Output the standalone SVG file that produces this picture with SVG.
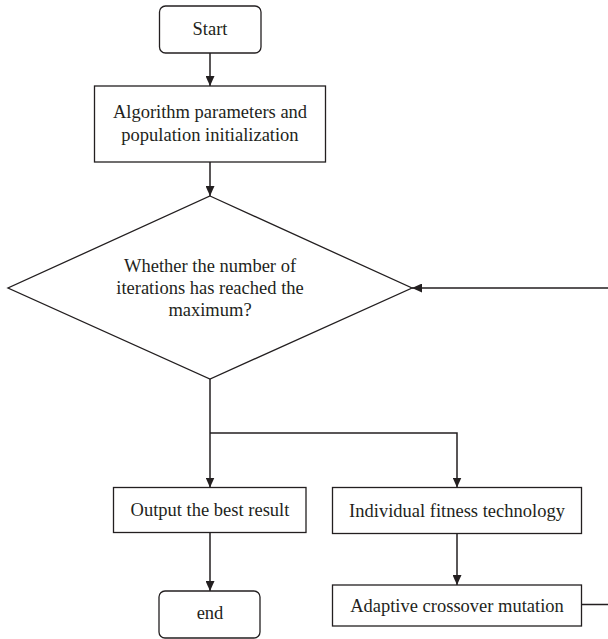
<svg xmlns="http://www.w3.org/2000/svg" width="608" height="639" viewBox="0 0 608 639">
<defs>
<marker id="arr" markerWidth="10" markerHeight="9" refX="10" refY="4.5" orient="auto" markerUnits="userSpaceOnUse">
<path d="M0,0 L10,4.5 L0,9 Z" fill="#231f20"/>
</marker>
</defs>
<style>
.box{fill:#ffffff;stroke:#231f20;stroke-width:1.3}
.t{font-family:"Liberation Serif","Times New Roman",serif;font-size:18.5px;fill:#231f20;text-anchor:middle}
.c{fill:none;stroke:#231f20;stroke-width:1.5}
</style>
<rect width="608" height="639" fill="#ffffff"/>
<g id="start">
<rect class="box" x="159.5" y="6" width="101.5" height="47" rx="6"/>
<text class="t" x="210" y="35">Start</text>
</g>
<g id="init">
<rect class="box" x="94.5" y="86" width="231" height="76"/>
<text class="t" x="210" y="118">Algorithm parameters and</text>
<text class="t" x="210" y="141">population initialization</text>
</g>
<g id="decision">
<polygon class="box" points="210,196 412,288 210,379 8,288"/>
<text class="t" x="210" y="272">Whether the number of</text>
<text class="t" x="210" y="294">iterations has reached the</text>
<text class="t" x="210" y="316">maximum?</text>
</g>
<g id="output">
<rect class="box" x="113.5" y="487.5" width="192.5" height="45"/>
<text class="t" x="210" y="516">Output the best result</text>
</g>
<g id="fitness">
<rect class="box" x="332.5" y="487.5" width="249" height="46"/>
<text class="t" x="457" y="516.5">Individual fitness technology</text>
</g>
<g id="crossover">
<rect class="box" x="332.5" y="585" width="249" height="41"/>
<text class="t" x="457" y="611.5">Adaptive crossover mutation</text>
</g>
<g id="end">
<rect class="box" x="159" y="591" width="101" height="47" rx="6"/>
<text class="t" x="210" y="619">end</text>
</g>
<g id="connectors">
<path class="c" d="M210,53 V86" marker-end="url(#arr)"/>
<path class="c" d="M210,162 V196" marker-end="url(#arr)"/>
<path class="c" d="M210,379 V487.5" marker-end="url(#arr)"/>
<path class="c" d="M210,433 H457 V487.5" marker-end="url(#arr)"/>
<path class="c" d="M210,532.5 V591" marker-end="url(#arr)"/>
<path class="c" d="M457,533.5 V585" marker-end="url(#arr)"/>
<path class="c" d="M581.5,604.5 H609.5 V288 H412" marker-end="url(#arr)"/>
</g>
</svg>
